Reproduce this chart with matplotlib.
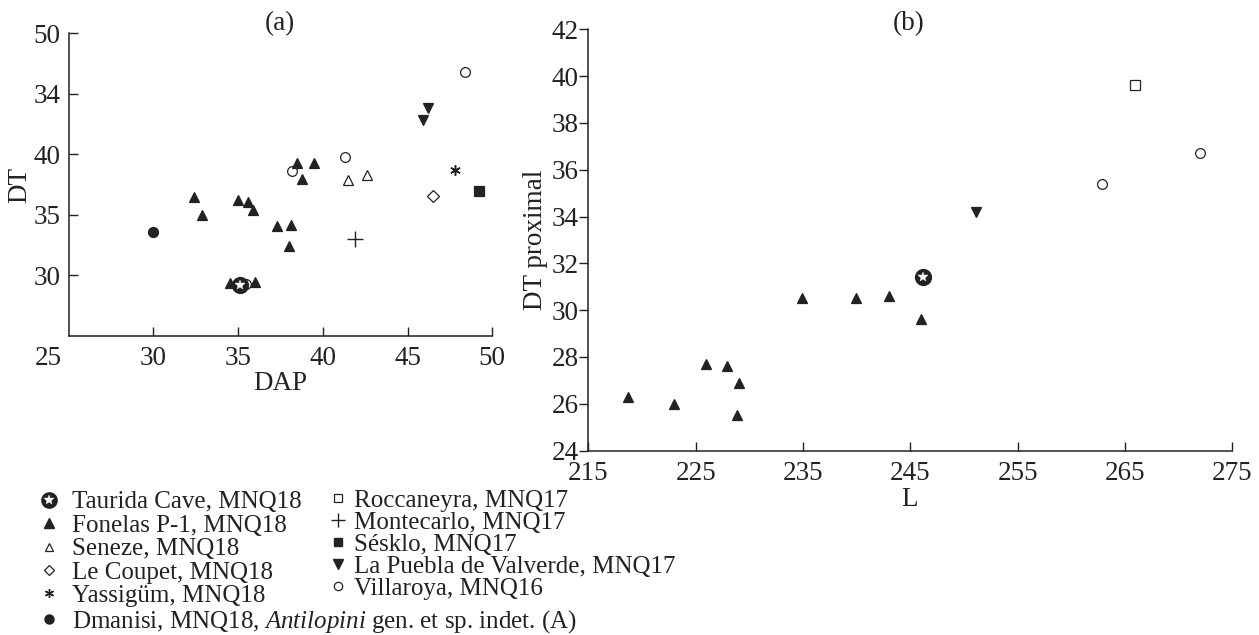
import numpy as np
import matplotlib
matplotlib.use('Agg')
import matplotlib.pyplot as plt
from matplotlib.lines import Line2D

plt.rcParams['font.family'] = ['Liberation Serif', 'DejaVu Serif']
plt.rcParams['mathtext.fontset'] = 'custom'
plt.rcParams['mathtext.rm'] = 'Liberation Serif'
plt.rcParams['mathtext.it'] = 'Liberation Serif:italic'

INK = '#222222'
FS = 19.5       # axes text
LFS = 18        # legend text

# ---- data, panel (a): DAP vs DT ----
taurida_dap, taurida_dt = [35.1], [29.2]
fonelas_dap = [32.4, 32.9, 35.0, 35.6, 35.9, 37.3, 38.1, 38.0, 38.5, 38.8, 39.5, 34.5, 36.0]
fonelas_dt = [36.5, 35.0, 36.2, 36.1, 35.4, 34.1, 34.2, 32.4, 39.3, 38.0, 39.3, 29.4, 29.5]
seneze_dap, seneze_dt = [41.5, 42.6], [37.9, 38.3]
coupet_dap, coupet_dt = [46.5], [36.6]
yassigum_dap, yassigum_dt = [47.8], [38.7]
dmanisi_dap, dmanisi_dt = [30.0], [33.6]
montecarlo_dap, montecarlo_dt = [41.9], [33.0]
sesklo_dap, sesklo_dt = [49.2], [37.0]
puebla_dap, puebla_dt = [45.9, 46.2], [42.8, 43.8]
villaroya_dap = [38.2, 41.3, 48.4, 35.5]
villaroya_dt = [38.6, 39.8, 46.8, 29.3]

# y tick labels as printed in the original (45 is printed "34")
a_yticks = [30, 35, 40, 45, 50]
a_yticklabels = ['30', '35', '40', '34', '50']
a_xticks = [30, 35, 40, 45, 50]

# ---- data, panel (b): L vs DT proximal ----
fonelas_l = [218.7, 223.0, 226.0, 227.9, 229.0, 228.9, 234.9, 239.9, 243.0, 246.0]
fonelas_dtp = [26.3, 26.0, 27.7, 27.6, 26.9, 25.5, 30.5, 30.5, 30.6, 29.6]
taurida_l, taurida_dtp = [246.2], [31.4]
puebla_l, puebla_dtp = [251.1], [34.2]
villaroya_l, villaroya_dtp = [262.9, 272.0], [35.4, 36.7]
roccaneyra_l, roccaneyra_dtp = [265.9], [39.6]

b_xticks = [215, 225, 235, 245, 255, 265, 275]
b_yticks = [24, 26, 28, 30, 32, 34, 36, 38, 40, 42]

W, H = 1259, 635
fig = plt.figure(figsize=(W / 100, H / 100), dpi=100)


def px(x, y):
    return x / W, 1 - y / H


ax1 = fig.add_axes([68.5 / W, 1 - 336 / H, 423.8 / W, 302.7 / H])
ax2 = fig.add_axes([588.3 / W, 1 - 450.5 / H, 644 / W, 421.2 / H])

for ax in (ax1, ax2):
    for s in ('top', 'right'):
        ax.spines[s].set_visible(False)
    for s in ('left', 'bottom'):
        ax.spines[s].set_linewidth(1.1)
        ax.spines[s].set_color(INK)
    ax.tick_params(labelsize=FS, colors=INK, width=1.0, length=6.5)

mk = dict(linestyle='none', color=INK)
ew = 0.9


def star_circle(ax, x, y, ms=11.5):
    ax.plot(x, y, marker='o', ms=ms, mfc=INK, mec=INK, mew=ew, zorder=5, linestyle='none')
    ax.plot(x, y, marker='*', ms=ms * 0.62, mfc='white', mec='white', mew=0.3, zorder=6, linestyle='none')


# panel (a)
ax1.plot(villaroya_dap, villaroya_dt, marker='o', ms=7, mfc='white', mec=INK, mew=ew, zorder=2, **mk)
ax1.plot(fonelas_dap, fonelas_dt, marker='^', ms=7.5, mfc=INK, mec=INK, mew=ew, zorder=3, **mk)
ax1.plot(seneze_dap, seneze_dt, marker='^', ms=6.7, mfc='white', mec=INK, mew=ew, zorder=3, **mk)
ax1.plot(coupet_dap, coupet_dt, marker='D', ms=6.0, mfc='white', mec=INK, mew=ew, zorder=3, **mk)
ax1.plot(yassigum_dap, yassigum_dt, marker=(6, 2, 0), ms=7.5, mec=INK, mew=1.1, zorder=3, **mk)
ax1.plot(dmanisi_dap, dmanisi_dt, marker='o', ms=7.2, mfc=INK, mec=INK, mew=ew, zorder=3, **mk)
ax1.plot(montecarlo_dap, montecarlo_dt, marker='+', ms=12, mec=INK, mew=1.0, zorder=3, **mk)
ax1.plot(sesklo_dap, sesklo_dt, marker='s', ms=7, mfc=INK, mec=INK, mew=ew, zorder=3, **mk)
ax1.plot(puebla_dap, puebla_dt, marker='v', ms=7.5, mfc=INK, mec=INK, mew=ew, zorder=3, **mk)
star_circle(ax1, taurida_dap, taurida_dt)

ax1.set_xlim(25, 50)
ax1.set_ylim(25, 50)
ax1.set_xticks(a_xticks)
ax1.set_yticks(a_yticks)
ax1.set_yticklabels(a_yticklabels)
ax1.tick_params(direction='in')
ax1.tick_params(axis='x', pad=7.5)
ax1.tick_params(axis='y', pad=5.5)
ax1.annotate('25', xy=(25, 25), xycoords='data', xytext=(-14.5, -7.5), textcoords='offset points',
             ha='center', va='top', fontsize=FS, color=INK)

# panel (b)
ax2.plot(fonelas_l, fonelas_dtp, marker='^', ms=7.5, mfc=INK, mec=INK, mew=ew, zorder=3, **mk)
ax2.plot(puebla_l, puebla_dtp, marker='v', ms=7.5, mfc=INK, mec=INK, mew=ew, zorder=3, **mk)
ax2.plot(villaroya_l, villaroya_dtp, marker='o', ms=7, mfc='white', mec=INK, mew=ew, zorder=3, **mk)
ax2.plot(roccaneyra_l, roccaneyra_dtp, marker='s', ms=7, mfc='white', mec=INK, mew=ew, zorder=3, **mk)
star_circle(ax2, taurida_l, taurida_dtp)

ax2.set_xlim(215, 275)
ax2.set_ylim(24, 42)
ax2.set_xticks(b_xticks)
ax2.set_yticks(b_yticks)
ax2.tick_params(axis='x', direction='in', pad=7.5)
ax2.tick_params(axis='y', direction='out', pad=0.5)

# labels and titles
fig.text(*px(280, 24), '(a)', ha='center', va='center', fontsize=FS, color=INK)
fig.text(*px(909, 24), '(b)', ha='center', va='center', fontsize=FS, color=INK)
fig.text(*px(20, 185), 'DT', rotation=90, ha='center', va='center', fontsize=FS, color=INK)
fig.text(*px(280, 384), 'DAP', ha='center', va='center', fontsize=FS, color=INK)
fig.text(*px(535, 240), 'DT proximal', rotation=90, ha='center', va='center', fontsize=FS, color=INK)
fig.text(*px(910, 499), 'L', ha='center', va='center', fontsize=FS, color=INK)

# legends
lk = dict(linestyle='none', color=INK)
h_taurida = (Line2D([], [], marker='o', ms=11, mfc=INK, mec=INK, **lk),
             Line2D([], [], marker='*', ms=7, mfc='white', mec='white', mew=0.3, **lk))
h1 = [h_taurida,
      Line2D([], [], marker='^', ms=6.5, mfc=INK, mec=INK, **lk),
      Line2D([], [], marker='^', ms=5.5, mfc='white', mec=INK, mew=ew, **lk),
      Line2D([], [], marker='D', ms=5.5, mfc='white', mec=INK, mew=ew, **lk),
      Line2D([], [], marker=(6, 2, 0), ms=6.5, mec=INK, mew=1.0, **lk),
      Line2D([], [], marker='o', ms=6.5, mfc=INK, mec=INK, **lk)]
l1 = ['Taurida Cave, MNQ18', 'Fonelas P-1, MNQ18', 'Seneze, MNQ18', 'Le Coupet, MNQ18',
      'Yassigüm, MNQ18', r'Dmanisi, MNQ18, $\mathit{Antilopini}$ gen. et sp. indet. (A)']
h2 = [Line2D([], [], marker='s', ms=5.5, mfc='white', mec=INK, mew=ew, **lk),
      Line2D([], [], marker='+', ms=10, mec=INK, mew=1.0, **lk),
      Line2D([], [], marker='s', ms=6, mfc=INK, mec=INK, **lk),
      Line2D([], [], marker='v', ms=6.5, mfc=INK, mec=INK, **lk),
      Line2D([], [], marker='o', ms=6, mfc='white', mec=INK, mew=ew, **lk)]
l2 = ['Roccaneyra, MNQ17', 'Montecarlo, MNQ17', 'Sésklo, MNQ17',
      'La Puebla de Valverde, MNQ17', 'Villaroya, MNQ16']

leg1 = fig.legend(h1, l1, loc='upper left', bbox_to_anchor=px(39, 491), frameon=False,
                  fontsize=LFS, borderpad=0, borderaxespad=0, handlelength=0.8,
                  handletextpad=0.52, labelspacing=0.036)
leg2 = fig.legend(h2, l2, loc='upper left', bbox_to_anchor=px(330.5, 489), frameon=False,
                  fontsize=LFS, borderpad=0, borderaxespad=0, handlelength=0.6,
                  handletextpad=0.34, labelspacing=-0.016)
for lg in (leg1, leg2):
    for t in lg.get_texts():
        t.set_color(INK)

fig.savefig('out.png', dpi=100)
